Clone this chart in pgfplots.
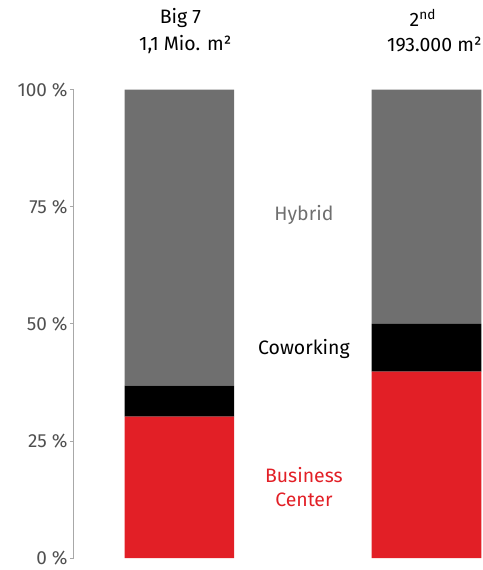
\documentclass[border=0pt]{standalone}
\usepackage{pgfplots}
\pgfplotsset{compat=1.18}
\usepackage{fontspec}
\setmainfont{Fira Sans}
\definecolor{hyb}{HTML}{6F6F6F}
\definecolor{bcred}{HTML}{E21F26}
\definecolor{axgray}{HTML}{A8A8A8}
\definecolor{lblgray}{HTML}{505050}
\begin{document}
\begin{tikzpicture}
\begin{axis}[
  scale only axis,
  width=410pt, height=470pt,
  xmin=-0.4274, xmax=1.2258,
  ymin=0, ymax=100,
  ybar stacked,
  bar width=110pt,
  clip=false,
  hide x axis,
  axis y line*=left,
  axis line style={axgray, line width=0.8pt},
  ytick={0,25,50,75,100},
  yticklabels={0 \%,25 \%,50 \%,75 \%,100 \%},
  tick align=outside,
  major tick length=4pt,
  ytick style={axgray, line width=0.8pt},
  yticklabel style={font=\fontsize{19}{22}\selectfont, text=lblgray, inner xsep=2pt},
  /pgf/number format/assume math mode=true,
]
\coordinate (bl) at (rel axis cs:0,0);
\addplot+[draw=none, fill=bcred] coordinates {(0,30.2) (1,39.8)};
\addplot+[draw=none, fill=black] coordinates {(0,6.6) (1,10.2)};
\addplot+[draw=none, fill=hyb] coordinates {(0,63.2) (1,50.0)};
\node[font=\fontsize{19.5}{22}\selectfont] at (axis cs:0.004,115.3) {Big 7};
\node[font=\fontsize{19.5}{22}\selectfont] at (axis cs:0.024,109.6) {1,1 Mio. m²};
\node[font=\fontsize{19.5}{22}\selectfont] at (axis cs:0.985,115.3) {2\textsuperscript{nd}};
\node[font=\fontsize{19.5}{22}\selectfont] at (axis cs:1.032,109.6) {193.000 m²};
\node[font=\fontsize{19.5}{22}\selectfont, text=hyb] at (axis cs:0.504,73.2) {Hybrid};
\node[font=\fontsize{19.5}{22}\selectfont, text=black] at (axis cs:0.504,44.7) {Coworking};
\node[font=\fontsize{19.5}{24}\selectfont, text=bcred, align=center] at (axis cs:0.504,15.1) {Business\\Center};
\end{axis}
\pgfresetboundingbox
\path[use as bounding box] (bl) ++(-74pt,-12pt) rectangle ++(484pt,572pt);
\end{tikzpicture}
\end{document}
